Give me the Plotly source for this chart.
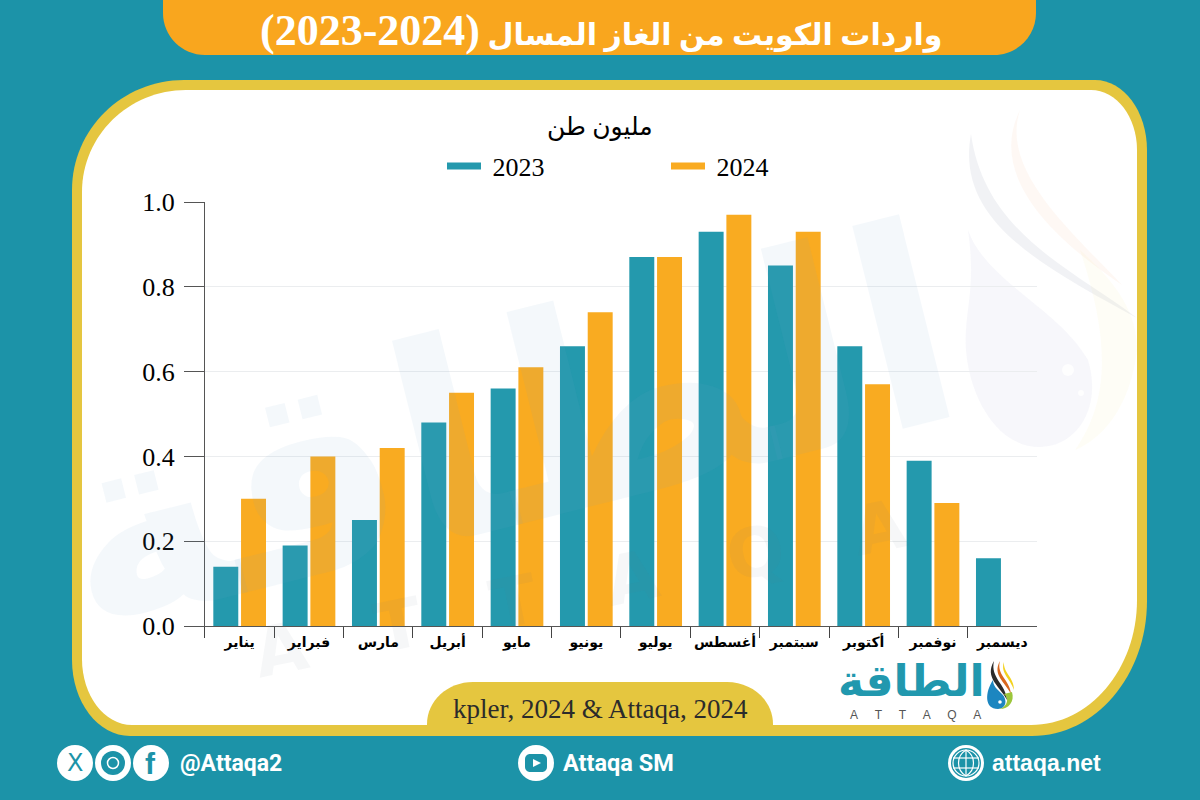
import plotly.graph_objects as go

months = ["يناير", "فبراير", "مارس", "أبريل", "مايو", "يونيو", "يوليو", "أغسطس", "سبتمبر", "أكتوبر", "نوفمبر", "ديسمبر"]
imports_2023 = [0.14, 0.19, 0.25, 0.48, 0.56, 0.66, 0.87, 0.93, 0.85, 0.66, 0.39, 0.16]
imports_2024 = [0.30, 0.40, 0.42, 0.55, 0.61, 0.74, 0.87, 0.97, 0.93, 0.57, 0.29, None]
y_ticks = [0.0, 0.2, 0.4, 0.6, 0.8, 1.0]
title_words = "واردات الكويت من الغاز المسال"
title_years = "(2024-2023)"
unit_text = "مليون طن"
source_text = "kpler, 2024 & Attaqa, 2024"

TEAL_BG = "#1C93A8"
TEAL = "#2499AD"
ORANGE = "#F9AB21"
YELLOW = "#E5C63F"
SERIF = "Liberation Serif, DejaVu Sans"
W, H = 1200, 800


def X(x):
    return round(x / W, 5)


def Y(y):
    return round(1 - y / H, 5)


def path(cmds):
    """cmds: list of (letter, px, py, ...) in pixels from the top left."""
    out = []
    for c in cmds:
        if c[0] == "Z":
            out.append("Z")
            continue
        pts = c[1:]
        s = " ".join(f"{X(pts[i])},{Y(pts[i + 1])}" for i in range(0, len(pts), 2))
        out.append(f"{c[0]} {s}")
    return " ".join(out)


def rrect(x0, y0, x1, y1, tl=(0, 0), tr=(0, 0), br=(0, 0), bl=(0, 0)):
    k = 0.5523
    return path([
        ("M", x0 + tl[0], y0),
        ("L", x1 - tr[0], y0),
        ("C", x1 - tr[0] * (1 - k), y0, x1, y0 + tr[1] * (1 - k), x1, y0 + tr[1]),
        ("L", x1, y1 - br[1]),
        ("C", x1, y1 - br[1] * (1 - k), x1 - br[0] * (1 - k), y1, x1 - br[0], y1),
        ("L", x0 + bl[0], y1),
        ("C", x0 + bl[0] * (1 - k), y1, x0, y1 - bl[1] * (1 - k), x0, y1 - bl[1]),
        ("L", x0, y0 + tl[1]),
        ("C", x0, y0 + tl[1] * (1 - k), x0 + tl[0] * (1 - k), y0, x0 + tl[0], y0),
        ("Z",),
    ])


shapes = []


def add_path(d, fill, line=None, width=0, layer="below", opacity=1):
    shapes.append(dict(type="path", xref="paper", yref="paper", path=d, fillcolor=fill,
                       line=dict(color=line or "rgba(0,0,0,0)", width=width), layer=layer, opacity=opacity))


def circle(cx, cy, r, fill, line=None, width=0, layer="above"):
    shapes.append(dict(type="circle", xref="paper", yref="paper", x0=X(cx - r), x1=X(cx + r),
                       y0=Y(cy + r), y1=Y(cy - r), fillcolor=fill,
                       line=dict(color=line or "rgba(0,0,0,0)", width=width), layer=layer))


# banner and panel
add_path(rrect(163, 0, 1036, 55, br=(42, 42), bl=(42, 42)), "#F9A61E")
add_path(rrect(72, 80, 1147, 736, tl=(112, 110), tr=(52, 70), br=(115, 135), bl=(58, 76)), YELLOW)
add_path(rrect(82, 90, 1137, 725, tl=(104, 102), tr=(46, 60), br=(106, 125), bl=(50, 66)), "#FFFFFF")
add_path(rrect(427, 682, 773, 726, tl=(46, 42), tr=(46, 42)), YELLOW)

# watermark drop and swooshes
add_path(path([("M", 971, 134), ("C", 955, 220, 1040, 265, 1137, 318), ("C", 1075, 270, 985, 235, 971, 134), ("Z",)]),
         "rgba(170,175,190,0.16)")
add_path(path([("M", 1020, 110), ("C", 990, 170, 1040, 230, 1122, 285), ("C", 1070, 230, 1000, 170, 1020, 110), ("Z",)]),
         "rgba(245,190,150,0.10)")
add_path(path([("M", 968, 230), ("C", 985, 280, 1060, 310, 1088, 360), ("C", 1103, 410, 1075, 447, 1040, 447),
               ("C", 990, 447, 962, 380, 966, 330), ("C", 968, 300, 975, 280, 968, 230), ("Z",)]),
         "rgba(190,195,225,0.13)")
add_path(path([("M", 1080, 250), ("C", 1125, 290, 1137, 320, 1137, 350), ("C", 1130, 410, 1100, 440, 1075, 450),
               ("C", 1110, 400, 1110, 340, 1080, 250), ("Z",)]), "rgba(245,235,170,0.10)")
circle(1068, 370, 6, "rgba(255,255,255,0.8)", layer="below")
circle(1081, 393, 3, "rgba(255,255,255,0.8)", layer="below")

# social icons
for cx in (75, 113, 151, 536, 966):
    circle(cx, 763, 18, "#FFFFFF")
circle(113, 763, 12, TEAL_BG)
circle(113, 763, 5.5, "rgba(0,0,0,0)", line="#FFFFFF", width=1.5)
add_path(rrect(525, 754, 547, 772, tl=(5, 5), tr=(5, 5), br=(5, 5), bl=(5, 5)), TEAL_BG, layer="above")
add_path(path([("M", 533, 759), ("L", 541, 763), ("L", 533, 767), ("Z",)]), "#FFFFFF", layer="above")
circle(966, 763, 15, TEAL_BG)
circle(966, 763, 13, "rgba(0,0,0,0)", line="#FFFFFF", width=1.2)
add_path(path([("M", 966, 750), ("C", 956, 756, 956, 770, 966, 776), ("C", 976, 770, 976, 756, 966, 750), ("Z",)]),
         "rgba(0,0,0,0)", line="#FFFFFF", width=1.2, layer="above")
add_path(path([("M", 966, 750), ("L", 966, 776)]), "rgba(0,0,0,0)", line="#FFFFFF", width=1.2, layer="above")
add_path(path([("M", 953, 758), ("L", 979, 758)]), "rgba(0,0,0,0)", line="#FFFFFF", width=1.2, layer="above")
add_path(path([("M", 953, 768), ("L", 979, 768)]), "rgba(0,0,0,0)", line="#FFFFFF", width=1.2, layer="above")

# logo flame and drop
add_path(path([("M", 994, 661), ("C", 984, 678, 1000, 686, 1007, 700), ("C", 1006, 684, 990, 678, 994, 661), ("Z",)]), "#2B2B2B", layer="above")
add_path(path([("M", 1000, 661), ("C", 992, 675, 1005, 682, 1011, 694), ("C", 1010, 680, 996, 675, 1000, 661), ("Z",)]), "#D9681D", layer="above")
add_path(path([("M", 1004, 662), ("C", 1000, 673, 1010, 678, 1014, 690), ("C", 1014, 677, 1003, 673, 1004, 662), ("Z",)]), "#F3D21F", layer="above")
add_path(path([("M", 993, 680), ("C", 985, 692, 984, 709, 998, 709), ("C", 1006, 709, 1008, 700, 1002, 694), ("C", 997, 689, 993, 686, 993, 680), ("Z",)]), "#1C86C0", layer="above")
add_path(path([("M", 1004, 694), ("C", 1011, 700, 1005, 709, 998, 709), ("C", 1008, 710, 1015, 702, 1012, 692), ("Z",)]), "#9CC63B", layer="above")
circle(1000, 702, 1.8, "#FFFFFF")


def note(text, x, y, size, color="#000000", family=SERIF, bold=False, anchor="center", angle=0):
    return dict(text=f"<b>{text}</b>" if bold else text, x=X(x), y=Y(y), xref="paper", yref="paper",
                xanchor=anchor, yanchor="middle", showarrow=False, textangle=angle,
                font=dict(size=size, color=color, family=family))


gap = "\u00a0" * 5
title_markup = f"\u202b{title_words} <span style='font-size:44px'>{title_years}</span>"
annotations = [
    note("الطاقة", 505, 430, 275, "rgba(120,160,200,0.08)", "DejaVu Sans", True, angle=-14),
    note("A   T   T   A   Q   A", 580, 588, 68, "rgba(110,120,130,0.06)", "DejaVu Sans", True, angle=-11.5),
    note(title_markup, 601, 31, 30, "#FFFFFF", SERIF, True),
    note(unit_text, 600, 127, 25),
    note(source_text, 601, 709, 27, "#2B2B2B", "Liberation Serif"),
    note("X", 75, 763, 24, TEAL_BG, "DejaVu Sans"),
    note("f", 151, 763, 30, TEAL_BG, "Liberation Sans", True),
    note("@Attaqa2", 178, 763, 23, "#FFFFFF", "Roboto", True, anchor="left"),
    note("Attaqa SM", 561, 763, 23.5, "#FFFFFF", "Roboto", True, anchor="left"),
    note("attaqa.net", 990, 763, 23, "#FFFFFF", "Liberation Sans", True, anchor="left"),
    note("الطاقة", 911, 680, 44, "#2198AE", "DejaVu Sans", True),
    note(gap.join("ATTAQA"), 915, 715, 12, "#555555", "Liberation Sans"),
]

fig = go.Figure()
fig.add_bar(x=months, y=imports_2023, name="2023", marker=dict(color=TEAL, line_width=0), showlegend=False)
fig.add_bar(x=months, y=imports_2024, name="2024", marker=dict(color=ORANGE, line_width=0), showlegend=False)
fig.add_scatter(x=[None], y=[None], mode="lines", name="\u00a02023", line=dict(color=TEAL, width=7))
fig.add_scatter(x=[None], y=[None], mode="lines", name="\u00a02024", line=dict(color=ORANGE, width=7))

fig.update_layout(
    width=W, height=H, autosize=False,
    margin=dict(l=0, r=0, t=0, b=0, pad=0, autoexpand=False),
    paper_bgcolor=TEAL_BG, plot_bgcolor="rgba(0,0,0,0)",
    barmode="group", bargap=0.2, bargroupgap=0.1,
    shapes=shapes, annotations=annotations,
    legend=dict(orientation="h", x=X(442), y=Y(166), xanchor="left", yanchor="middle",
                itemwidth=34, entrywidth=175, entrywidthmode="pixels",
                bgcolor="rgba(0,0,0,0)", font=dict(family="Liberation Serif", size=26, color="#000000")),
    xaxis=dict(domain=[X(205), X(1037)], type="category", categoryorder="array", categoryarray=months,
               tickson="boundaries", ticks="outside", ticklen=11, tickcolor="#444444", tickwidth=1,
               showline=True, linecolor="#555555", linewidth=1, showgrid=False, fixedrange=True,
               tickangle=0, ticklabelstandoff=3,
               tickfont=dict(family="DejaVu Sans", size=14, color="#000000", weight="bold")),
    yaxis=dict(domain=[Y(626), Y(202)], range=[0, 1], tickvals=y_ticks, tickformat=".1f",
               ticks="outside", ticklen=20, tickcolor="#555555", tickwidth=1,
               showline=True, linecolor="#555555", linewidth=1, showgrid=True, gridcolor="#EBEDEF", gridwidth=1,
               zeroline=False, fixedrange=True, ticklabelstandoff=4,
               tickfont=dict(family="Liberation Serif", size=26, color="#000000")),
)

fig.write_html("out.html", config=dict(displayModeBar=False),
               post_script="document.body.style.margin='0';document.body.style.overflow='hidden';")
